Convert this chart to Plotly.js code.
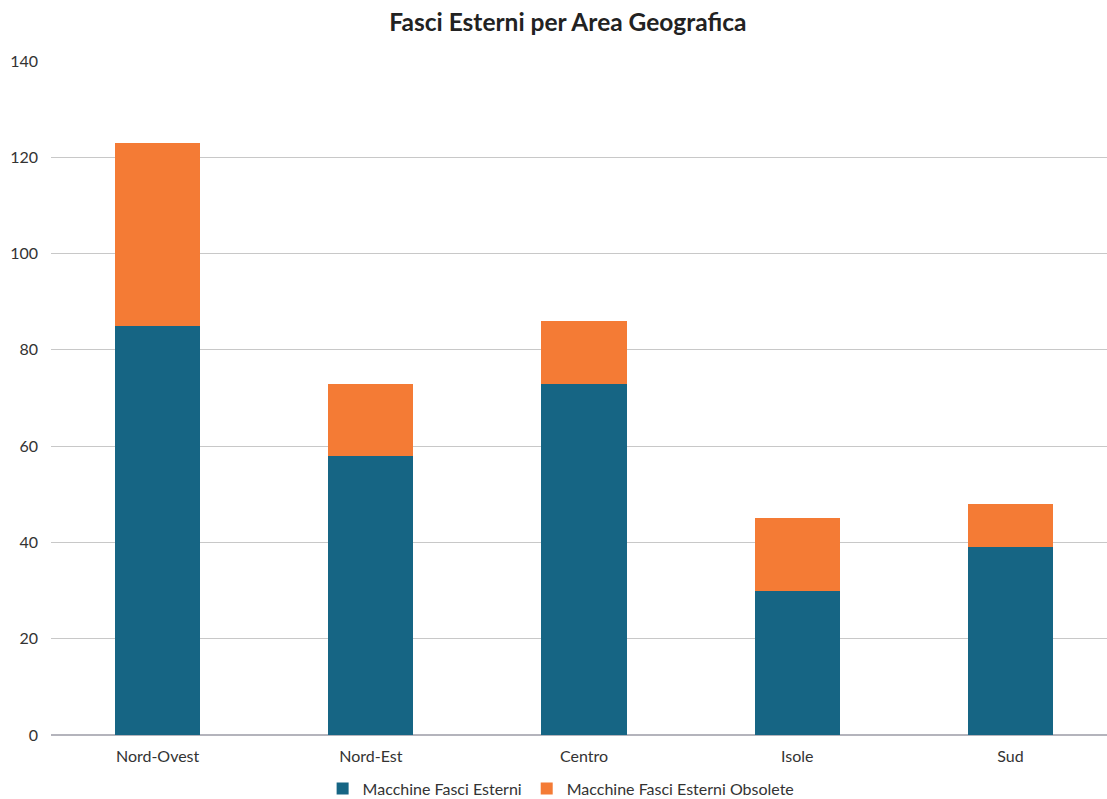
<!DOCTYPE html>
<html><head><meta charset="utf-8">
<script src="https://cdn.plot.ly/plotly-3.0.1.min.js"></script>
<style>html,body{margin:0;padding:0;overflow:hidden;background:#fff}</style>
</head><body><div id="chart"></div>
<script>
var categories = ["Nord-Ovest", "Nord-Est", "Centro", "Isole", "Sud"];
var macchine = [85, 58, 73, 30, 39];
var obsolete = [38, 15, 13, 15, 9];
var seriesNames = ["Macchine Fasci Esterni", "Macchine Fasci Esterni Obsolete"];
var yTicks = [0, 20, 40, 60, 80, 100, 120, 140];

var font = "Lato, 'Open Sans', sans-serif";
var data = [
  {type: "bar", x: categories, y: macchine, name: seriesNames[0], marker: {color: "#166584"}},
  {type: "bar", x: categories, y: obsolete, name: seriesNames[1], marker: {color: "#f47b35"}}
];
var layout = {
  width: 1120, height: 799,
  barmode: "stack", bargap: 0.6,
  margin: {l: 50.5, r: 3, t: 61, b: 64, autoexpand: false},
  paper_bgcolor: "#fff", plot_bgcolor: "#fff",
  font: {family: font, size: 16, color: "#333"},
  title: {text: "<b>Fasci Esterni per Area Geografica</b>", font: {family: font, size: 24.5, color: "#222"}, x: 0.507, xref: "container", xanchor: "center", y: 0.972, yref: "container", yanchor: "middle"},
  xaxis: {tickfont: {size: 16, color: "#333"}, showline: false, ticks: "", showgrid: false, ticklabelstandoff: 10, automargin: false},
  yaxis: {range: [0, 140], tickvals: yTicks, ticks: "", showgrid: true, gridcolor: "#c8c8c8", gridwidth: 1, zeroline: true, zerolinecolor: "#b4b4bc", zerolinewidth: 2, tickfont: {size: 16, color: "#333"}, ticklabelstandoff: 12, automargin: false},
  legend: {orientation: "h", traceorder: "normal", x: 0.501, xref: "container", xanchor: "center", y: 0.013, yref: "container", yanchor: "middle", font: {size: 16, color: "#333"}, itemwidth: 30},
  showlegend: true
};
Plotly.newPlot("chart", data, layout, {displayModeBar: false, staticPlot: true});
</script></body></html>
